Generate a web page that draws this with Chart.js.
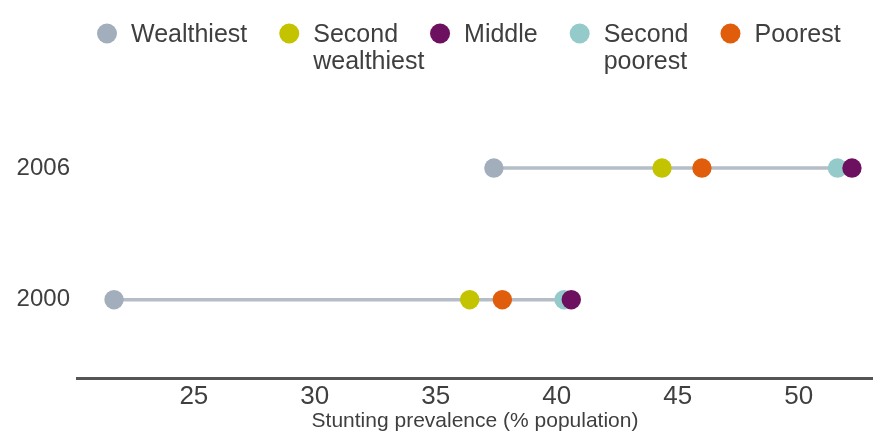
<!DOCTYPE html>
<html>
<head>
<meta charset="utf-8">
<script src="https://cdn.jsdelivr.net/npm/chart.js@4"></script>
<style>
  html, body { margin: 0; padding: 0; background: #fff; }
  #wrap { width: 873px; height: 432px; }
</style>
</head>
<body>
<div id="wrap"><canvas id="myChart"></canvas></div>
<script>
// data
const years = ['2000', '2006'];
const groups = ['Wealthiest', 'Second wealthiest', 'Middle', 'Second poorest', 'Poorest'];
const legendLines = [['Wealthiest'], ['Second', 'wealthiest'], ['Middle'], ['Second', 'poorest'], ['Poorest']];
const wealthiest = [21.7, 37.4];
const secondWealthiest = [36.4, 44.35];
const middle = [40.6, 52.2];
const secondPoorest = [40.3, 51.6];
const poorest = [37.75, 46.0];
const xTicks = [25, 30, 35, 40, 45, 50];

const series = [wealthiest, secondWealthiest, middle, secondPoorest, poorest];
const colors = ['#a2aebc', '#c3c300', '#6e1060', '#94cbca', '#e05e0b'];
const lineColor = '#b5bdc7';
const textColor = '#3f3f3f';
const fontFamily = "'Liberation Sans', Arial, sans-serif";

Chart.defaults.font.family = fontFamily;
Chart.defaults.color = textColor;

const dotDatasets = groups.map((g, i) => ({
    type: 'scatter',
    label: g,
    data: series[i].map((v, j) => ({ x: v, y: j })),
    backgroundColor: colors[i],
    pointRadius: 9.7,
    pointHoverRadius: 9.7,
    borderWidth: 0,
    order: 0
}));

// grey line from lowest to highest group in each year
const rangeDatasets = years.map((yr, j) => {
    const vals = series.map(s => s[j]);
    return {
        type: 'line',
        label: 'range ' + yr,
        data: [{ x: Math.min(...vals), y: j }, { x: Math.max(...vals), y: j }],
        borderColor: lineColor,
        borderWidth: 3.5,
        pointRadius: 0,
        order: 10
    };
});

const dotLegend = {
    id: 'dotLegend',
    afterDraw(chart) {
        const c = chart.ctx;
        c.save();
        c.font = '25px ' + fontFamily;
        c.textBaseline = 'middle';
        let left = 97;
        legendLines.forEach((lines, i) => {
            c.beginPath();
            c.fillStyle = colors[i];
            c.arc(left + 10, 33.5, 10, 0, Math.PI * 2);
            c.fill();
            c.fillStyle = textColor;
            lines.forEach((t, k) => c.fillText(t, left + 34, 35 + k * 27));
            left += 34 + c.measureText(lines[0]).width + 32;
        });
        c.restore();
    }
};

const ctx = document.getElementById('myChart');
new Chart(ctx, {
    type: 'scatter',
    data: { datasets: [...dotDatasets, ...rangeDatasets] },
    options: {
        responsive: true,
        maintainAspectRatio: false,
        animation: false,
        layout: { autoPadding: false, padding: { top: 92, left: 0, right: 0, bottom: 0 } },
        scales: {
            x: {
                type: 'linear',
                min: 20.17,
                max: 53.07,
                afterBuildTicks: s => { s.ticks = xTicks.map(v => ({ value: v })); },
                afterFit: s => { s.height = 54; },
                grid: { display: false, drawTicks: false },
                border: { display: true, color: '#555555', width: 3 },
                ticks: { font: { size: 26 }, color: textColor, padding: 3 },
                title: {
                    display: true,
                    text: 'Stunting prevalence (% population)',
                    font: { size: 21 },
                    color: textColor,
                    padding: { top: 0, bottom: -2 }
                }
            },
            y: {
                type: 'linear',
                min: -0.595,
                max: 1.578,
                afterBuildTicks: s => { s.ticks = years.map((yr, j) => ({ value: j })); },
                afterFit: s => { s.width = 77; },
                grid: { display: false, drawTicks: false },
                border: { display: false },
                ticks: {
                    font: { size: 24 },
                    color: textColor,
                    padding: 7,
                    callback: v => years[v]
                }
            }
        },
        plugins: {
            legend: { display: false },
            tooltip: { enabled: false }
        }
    },
    plugins: [dotLegend]
});
</script>
</body>
</html>
